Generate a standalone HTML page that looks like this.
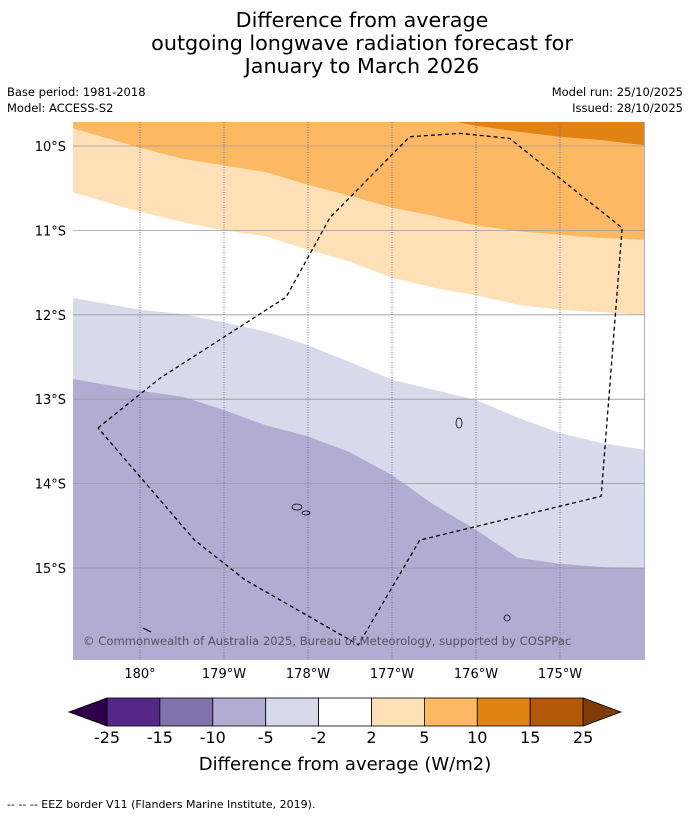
<!DOCTYPE html>
<html><head><meta charset="utf-8"><style>
body{margin:0;background:#fff;width:690px;height:816px;overflow:hidden;font-family:"Liberation Sans","DejaVu Sans",sans-serif}
svg{position:absolute;left:0;top:0}
</style></head><body>
<svg id="c" width="690" height="816" xmlns="http://www.w3.org/2000/svg">
<g font-family="DejaVu Sans, Liberation Sans, sans-serif">
<text x="362" y="27" font-size="20.7" text-anchor="middle">Difference from average</text>
<text x="362" y="50" font-size="20.7" text-anchor="middle">outgoing longwave radiation forecast for</text>
<text x="362" y="73" font-size="20.7" text-anchor="middle">January to March 2026</text>
<text x="7" y="96" font-size="11.5">Base period: 1981-2018</text>
<text x="7" y="112" font-size="11.5">Model: ACCESS-S2</text>
<text x="683" y="96" font-size="11.5" text-anchor="end">Model run: 25/10/2025</text>
<text x="683" y="112" font-size="11.5" text-anchor="end">Issued: 28/10/2025</text>
</g>
<defs><clipPath id="mapclip"><rect x="73" y="122" width="572" height="538"/></clipPath></defs>
<g id="map" clip-path="url(#mapclip)"></g>
<g id="axes" font-family="DejaVu Sans, Liberation Sans, sans-serif" font-size="13"></g>
<g id="cbar" font-family="DejaVu Sans, Liberation Sans, sans-serif"></g>
<text x="7" y="808" font-size="11" font-family="DejaVu Sans, Liberation Sans, sans-serif">--  --  -- EEZ border V11 (Flanders Marine Institute, 2019).</text>
</svg>
<script>
// data
const lons=[179.2,180,180.5,181,181.5,182,182.5,183,183.5,184,184.5,185,185.5,186];
const b5=[9.79,10.02,10.15,10.23,10.31,10.46,10.59,10.73,10.83,10.94,11.01,11.05,11.09,11.11];
const b2=[10.55,10.78,10.90,11.00,11.07,11.23,11.37,11.56,11.68,11.77,11.88,11.94,11.97,12.00];
const bm2=[11.80,11.94,11.99,12.09,12.20,12.36,12.56,12.77,12.89,13.01,13.22,13.40,13.52,13.60];
const bm5=[12.76,12.90,12.97,13.13,13.31,13.44,13.63,13.90,14.25,14.55,14.88,14.95,14.99,15.00];
const darkLons=[183.77,184,184.5,185,185.5,186];
const b10=[9.715,9.76,9.83,9.89,9.93,9.99];
const eezLon=[179.50,180.24,181.74,182.26,183.21,183.81,184.40,185.74,185.49,183.33,182.60,181.25,180.65,179.50];
const eezLat=[13.34,12.75,11.79,10.85,9.89,9.85,9.91,10.97,14.15,14.67,15.91,15.14,14.67,13.34];
const latTicks=[10,11,12,13,14,15];
const lonTicks=[180,181,182,183,184,185];
const lonLabels=["180°","179°W","178°W","177°W","176°W","175°W"];
const cbLevels=["-25","-15","-10","-5","-2","2","5","10","15","25"];
const cbColors=["#542788","#8073ac","#b2abd2","#d8daeb","#ffffff","#fee0b6","#fdb863","#e08214","#b35806"];
const NS="http://www.w3.org/2000/svg";
const X=l=>140+(l-180)*84;
const Y=la=>146+(la-10)*84.4;
function mk(tag,attrs,parent){const e=document.createElementNS(NS,tag);for(const k in attrs)e.setAttribute(k,attrs[k]);parent.appendChild(e);return e;}
const map=document.getElementById('map');
mk('rect',{x:73,y:122,width:572,height:538,fill:'#b2abd2'},map);
function band(arr,ls,fill,name){
  let d='M'+X(ls[0])+','+Y(arr[0]);
  for(let i=1;i<ls.length;i++)d+=' L'+X(ls[i])+','+Y(arr[i]);
  d+=' L'+X(ls[ls.length-1])+',100 L'+X(ls[0])+',100 Z';
  const p=mk('path',{d:d,fill:fill},map);
  
  
}
band(bm5,lons,'#d8daeb','band-minus2-to-minus5');
band(bm2,lons,'#ffffff','band-neutral');
band(b2,lons,'#fee0b6','band-2-to-5');
band(b5,lons,'#fdb863','band-5-to-10');
band(b10,darkLons,'#e08214','band-10-to-15');
latTicks.forEach(t=>{const l=mk('line',{x1:73,x2:645,y1:Y(t),y2:Y(t),stroke:'#999','stroke-width':0.8},map);

});
lonTicks.forEach(t=>{const l=mk('line',{x1:X(t),x2:X(t),y1:122,y2:660,stroke:'#5a5a9a','stroke-width':0.8,'stroke-dasharray':'1,1.5'},map);

});
// islands
[[459,423,3,5],[297,507,5,3],[306,513,4,2],[507,618,3,3]].forEach(a=>{const e=mk('ellipse',{cx:a[0],cy:a[1],rx:a[2],ry:a[3],fill:'none',stroke:'#000','stroke-width':0.8},map);

});
mk('line',{x1:143,y1:628,x2:151,y2:632,stroke:'#000','stroke-width':1},map);
let ed='';eezLon.forEach((l,i)=>{ed+=(i?' L':'M')+X(l)+','+Y(eezLat[i]);});
const eez=mk('path',{d:ed,fill:'none',stroke:'#000','stroke-width':1.3,'stroke-dasharray':'4,3'},map);


const cp=mk('text',{x:83,y:645,'font-size':11.6,fill:'#555','font-family':'DejaVu Sans, Liberation Sans, sans-serif'},map);
cp.textContent='© Commonwealth of Australia 2025, Bureau of Meteorology, supported by COSPPac';


const ax=document.getElementById('axes');
latTicks.forEach(t=>{const tx=mk('text',{x:66,y:Y(t)+5,'text-anchor':'end'},ax);tx.textContent=t+'°S';

});
lonTicks.forEach((t,i)=>{const tx=mk('text',{x:X(t),y:678,'text-anchor':'middle'},ax);tx.textContent=lonLabels[i];

});
// colorbar
const cb=document.getElementById('cbar');
const cx0=107,cw=52.9,cy=698,ch=28;
const lt=mk('polygon',{points:`${cx0},${cy} ${cx0},${cy+ch} 69,${cy+ch/2}`,fill:'#2d004b',stroke:'#000','stroke-width':0.8},cb);


cbColors.forEach((c,i)=>{const r=mk('rect',{x:cx0+i*cw,y:cy,width:cw,height:ch,fill:c,stroke:'#000','stroke-width':0.8},cb);

});
const xe=cx0+cbColors.length*cw;
const rt=mk('polygon',{points:`${xe},${cy} ${xe},${cy+ch} 621,${cy+ch/2}`,fill:'#7f3b08',stroke:'#000','stroke-width':0.8},cb);


cbLevels.forEach((v,i)=>{const t=mk('text',{x:cx0+i*cw,y:743,'text-anchor':'middle','font-size':16},cb);t.textContent=v;

});
const ct=mk('text',{x:345,y:770,'text-anchor':'middle','font-size':18},cb);ct.textContent='Difference from average (W/m2)';


</script>
</body></html>
